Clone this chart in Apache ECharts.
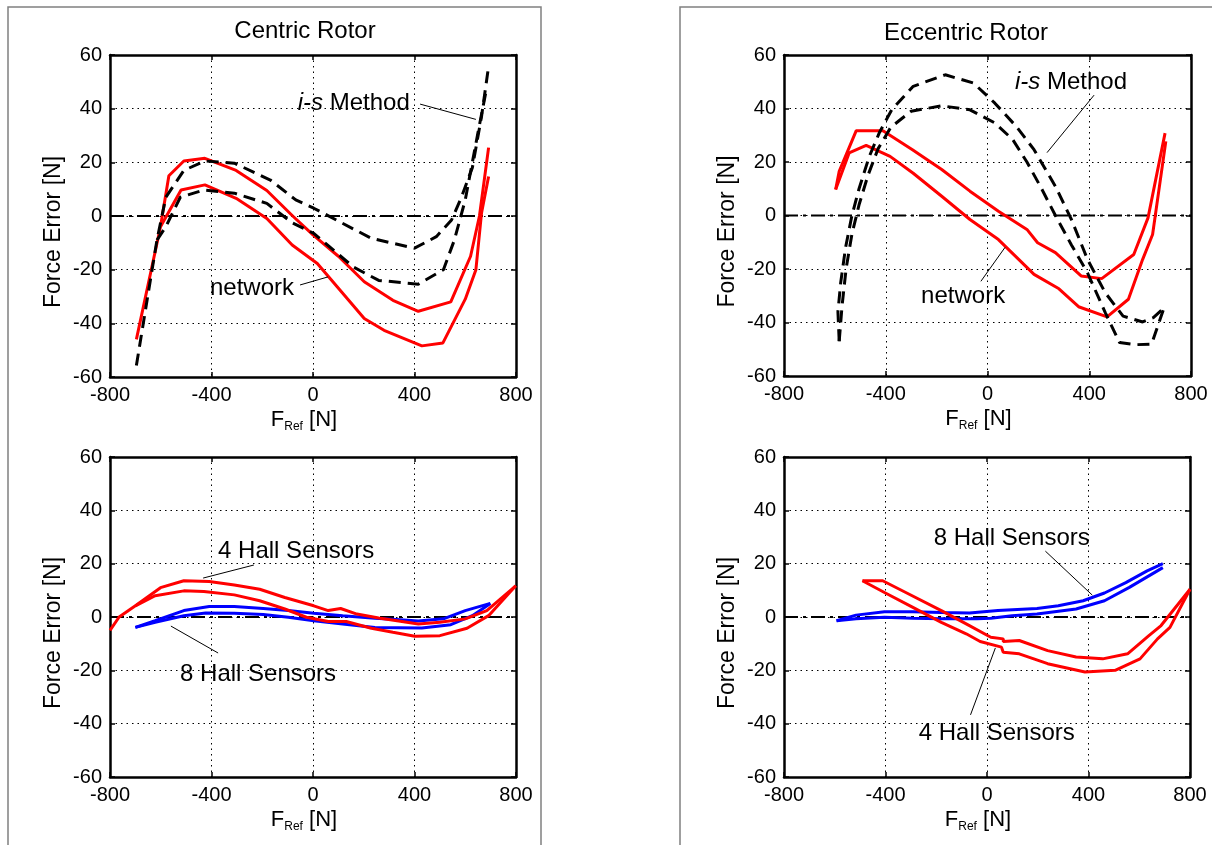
<!DOCTYPE html>
<html>
<head>
<meta charset="utf-8">
<script src="https://cdn.jsdelivr.net/npm/echarts@6/dist/echarts.min.js"></script>
<style>
html,body{margin:0;padding:0;background:#fff;}
#chart{width:1212px;height:845px;}
</style>
</head>
<body>
<div id="chart"></div>
<script>
// ---- axis ticks ----
const forceTicks = [-800, -400, 0, 400, 800];
const errorTicks = [-60, -40, -20, 0, 20, 40, 60];
const panelTitles = ['Centric Rotor', 'Eccentric Rotor'];

// ---- centric rotor: network estimate (hysteresis branches) ----
const centricNetUp = [[-696,-46],[-601,-4],[-568,15],[-509,20.5],[-426,21.5],[-303,17],[-182,9.5],[-80,0],[0,-7],[100,-15],[202,-24.5],[315,-31.4],[415,-35.5],[543,-32],[621,-15],[656,0],[692,25.5]];
const centricNetDown = [[-601,-4],[-520,9.7],[-426,11.6],[-303,6.6],[-182,-0.9],[-82,-10.8],[17,-17.7],[202,-38.2],[280,-42.6],[429,-48.4],[512,-47.3],[600,-31],[642,-20],[664,1],[692,14.7]];
// ---- centric rotor: i-s method ----
const centricIsUp = [[-696,-55.7],[-615,-9],[-580,7],[-509,17],[-426,20.5],[-310,19.7],[-168,13.4],[-68,6],[3,2.9],[116,-2.7],[230,-8.3],[400,-12],[486,-7.7],[546,-1.5],[585,7],[628,18],[664,37],[692,55.8]];
const centricIsDown = [[-615,-9],[-580,-4],[-523,7],[-430,9.7],[-310,8.5],[-182,4.7],[-82,-2.5],[3,-6.5],[159,-19],[259,-24],[415,-25.4],[514,-20],[557,-9],[600,6],[650,31],[685,48]];

// ---- eccentric rotor: network estimate ----
const eccentricNetUp = [[-597,9.7],[-583,16.5],[-516,31.7],[-411,31.7],[-295,24.6],[-180,17.2],[-69,9.1],[43,1.6],[155,-5.2],[197,-10.2],[267,-13.9],[368,-22.6],[449,-23.6],[575,-14.6],[631,-0.9],[698,30.8]];
const eccentricNetDown = [[-597,9.7],[-544,23.4],[-477,26.2],[-383,22.1],[-292,15.8],[-180,7.2],[-69,-1.5],[43,-9],[183,-22],[281,-27.4],[358,-34.1],[470,-37.9],[554,-31.3],[610,-16.4],[649,-7.1],[701,27.7]];
// ---- eccentric rotor: i-s method ----
const eccentricIsOuter = [[-583,-47],[-588,-36],[-577,-25],[-558,-12],[-533,0],[-505,10],[-465,22],[-425,31],[-376,39.6],[-292,48.3],[-166,52.6],[-55,49.5],[29,42],[113,33.3],[183,24.6],[267,10.9],[330,-1.5],[393,-16.4],[463,-28.9],[533,-37.6],[610,-39.8],[652,-38.2],[694,-34.5]];
const eccentricIsInner = [[-583,-47],[-572,-34],[-556,-20],[-533,-7],[-505,4],[-470,15],[-430,25],[-380,33],[-300,39],[-180,41],[-69,39.5],[29,34.6],[99,28.4],[155,20],[210,10.5],[267,0],[330,-11],[393,-21.4],[463,-36.3],[519,-47.5],[580,-48.3],[645,-48.1],[694,-34.5]];

// ---- centric rotor: Hall sensor estimates ----
const centricHall4Up = [[-800,-5],[-764,0],[-700,4.2],[-601,11],[-509,13.6],[-409,13.3],[-310,12],[-210,10.4],[-111,7.3],[3,4.2],[60,2.4],[109,3.2],[173,1.1],[259,-0.4],[344,-1.6],[415,-2.6],[500,-2],[600,-0.7],[685,2.4],[799,11.7]];
const centricHall4Down = [[-700,4.2],[-622,8],[-509,9.8],[-430,9.6],[-310,8.3],[-210,6.1],[-111,3],[-26,-0.1],[60,-1.7],[131,-1.7],[230,-4.2],[315,-5.7],[401,-7.2],[500,-7],[607,-4.2],[692,0.5],[799,11.7]];
const centricHall8Up = [[-700,-3.9],[-622,-1.4],[-509,2.4],[-409,3.9],[-310,3.9],[-196,3.2],[-97,2.4],[3,1.4],[117,0.5],[244,-0.5],[344,-1],[415,-1.5],[514,-0.7],[600,2.4],[699,5.1]];
const centricHall8Down = [[-700,-3.9],[-622,-2],[-509,0.5],[-423,1.5],[-310,1.4],[-196,0.9],[-97,-0.1],[3,-1.4],[117,-2.6],[244,-3.9],[429,-4.1],[543,-2.9],[628,0.5],[699,5.1]];

// ---- eccentric rotor: Hall sensor estimates ----
const eccentricHall4Up = [[-491,13.6],[-411,13.6],[-320,9.2],[-180,2.4],[-82,-2.6],[15,-7.6],[64,-8.2],[64,-9.2],[127,-8.8],[239,-12.6],[351,-15],[456,-15.7],[554,-13.8],[638,-7],[686,-3.2],[800,10.4]];
const eccentricHall4Down = [[-491,13.6],[-404,9.2],[-292,3.6],[-180,-2],[-82,-6.3],[-27,-9.2],[57,-11.3],[64,-13.2],[127,-13.8],[239,-17.5],[386,-20.6],[505,-20],[603,-15.7],[672,-8.2],[721,-3.9],[800,10.4]];
const eccentricHall8Up = [[-593,-1.4],[-516,0.7],[-404,2],[-292,2],[-180,1.7],[-69,1.5],[43,2.4],[197,3.2],[281,4.2],[379,6.1],[463,9],[547,12.9],[631,17.3],[693,20]];
const eccentricHall8Down = [[-593,-1.4],[-516,-0.7],[-404,-0.1],[-292,-0.5],[-180,-0.7],[-41,-0.7],[15,-0.5],[99,0.5],[197,1.1],[351,3],[463,6.1],[561,11.1],[693,18.5]];

// ---- annotation texts (anchor = left edge, vertical middle) and leader lines ----
const notes = [
  {grid: 0, text: 'i-s Method', at: [-60, 42], leader: [[422, 41.7], [642, 36]]},
  {grid: 0, text: 'network', at: [-406, -26.8], leader: [[-51, -25.7], [59, -22.7]]},
  {grid: 1, text: 'i-s Method', at: [108, 49.6], leader: [[419, 45], [234, 23.5]]},
  {grid: 1, text: 'network', at: [-261, -30.2], leader: [[-26, -24.6], [69, -11.9]]},
  {grid: 2, text: '4 Hall Sensors', at: [-374, 24.7], leader: [[-233, 19.5], [-433, 14.6]]},
  {grid: 2, text: '8 Hall Sensors', at: [-524, -21.7], leader: [[-560, -3.4], [-374, -13.5]]},
  {grid: 3, text: '8 Hall Sensors', at: [-210, 29.6], leader: [[230, 24.7], [415, 8.2]]},
  {grid: 3, text: '4 Hall Sensors', at: [-269, -43.5], leader: [[-65, -36.7], [33, -11.6]]}
];

const FONT = '"Liberation Sans", Arial, sans-serif';
const RED = '#ff0000', BLUE = '#0000ff', BLACK = '#000000';

const grids = [
  {left: 110, top: 55, width: 406, height: 322},
  {left: 784, top: 55, width: 407, height: 321},
  {left: 110, top: 457, width: 406, height: 320},
  {left: 784, top: 457, width: 406, height: 320}
];

const xMin = forceTicks[0], xMax = forceTicks[forceTicks.length - 1], xStep = forceTicks[1] - forceTicks[0];
const yMin = errorTicks[0], yMax = errorTicks[errorTicks.length - 1], yStep = errorTicks[1] - errorTicks[0];

const dotted = {color: BLACK, width: 1, type: [1.5, 4]};
const frameTick = {show: true, inside: true, length: 5, lineStyle: {color: BLACK, width: 1.5}};
const frameLine = {show: true, onZero: false, lineStyle: {color: BLACK, width: 2.5}};

function mainX(g) {
  return {
    type: 'value', gridIndex: g, position: 'bottom', min: xMin, max: xMax, interval: xStep,
    axisLine: frameLine, axisTick: frameTick,
    axisLabel: {show: true, margin: 8, color: BLACK, fontSize: 20, fontFamily: FONT, showMinLabel: true, showMaxLabel: true},
    splitLine: {show: true, lineStyle: dotted},
    name: '{m|F}{s|Ref}{m| [N]}', nameLocation: 'middle', nameGap: 30,
    nameTextStyle: {
      padding: [0, 18, 0, 0],
      rich: {
        m: {fontSize: 22, fontFamily: FONT, color: BLACK, lineHeight: 26},
        s: {fontSize: 12, fontFamily: FONT, color: BLACK, lineHeight: 12, verticalAlign: 'bottom'}
      }
    }
  };
}
function mirrorX(g) {
  return {
    type: 'value', gridIndex: g, position: 'top', min: xMin, max: xMax, interval: xStep,
    axisLine: frameLine, axisTick: frameTick, axisLabel: {show: false}, splitLine: {show: false}
  };
}
function mainY(g) {
  return {
    type: 'value', gridIndex: g, position: 'left', min: yMin, max: yMax, interval: yStep,
    axisLine: frameLine, axisTick: frameTick,
    axisLabel: {show: true, margin: 8, color: BLACK, fontSize: 20, fontFamily: FONT, showMinLabel: true, showMaxLabel: true},
    splitLine: {show: true, lineStyle: dotted},
    name: 'Force Error [N]', nameLocation: 'middle', nameGap: 45, nameRotate: 90,
    nameTextStyle: {fontSize: 23, fontFamily: FONT, color: BLACK, padding: [0, 32, 0, 0]}
  };
}
function mirrorY(g) {
  return {
    type: 'value', gridIndex: g, position: 'right', min: yMin, max: yMax, interval: yStep,
    axisLine: frameLine, axisTick: frameTick, axisLabel: {show: false}, splitLine: {show: false}
  };
}

function curve(g, data, color, dashed) {
  return {
    type: 'line', xAxisIndex: g, yAxisIndex: g, data: data, symbol: 'none', silent: true,
    lineStyle: {color: color, width: 3, type: dashed ? [12, 7] : 'solid'},
    z: dashed ? 4 : 3
  };
}
function zeroLine(g) {
  return {
    type: 'line', xAxisIndex: g, yAxisIndex: g, data: [[xMin, 0], [xMax, 0]], symbol: 'none', silent: true,
    lineStyle: {color: BLACK, width: 2, type: [14, 5, 3, 5]}, z: 2
  };
}

const series = [];
for (let g = 0; g < 4; g++) series.push(zeroLine(g));
series.push(curve(0, centricNetUp, RED), curve(0, centricNetDown, RED));
series.push(curve(0, centricIsUp, BLACK, true), curve(0, centricIsDown, BLACK, true));
series.push(curve(1, eccentricNetUp, RED), curve(1, eccentricNetDown, RED));
series.push(curve(1, eccentricIsOuter, BLACK, true), curve(1, eccentricIsInner, BLACK, true));
series.push(curve(2, centricHall8Up, BLUE), curve(2, centricHall8Down, BLUE));
series.push(curve(2, centricHall4Up, RED), curve(2, centricHall4Down, RED));
series.push(curve(3, eccentricHall8Up, BLUE), curve(3, eccentricHall8Down, BLUE));
series.push(curve(3, eccentricHall4Up, RED), curve(3, eccentricHall4Down, RED));

// leader lines from each annotation to its curve
notes.forEach(function (n) {
  series.push({
    type: 'line', xAxisIndex: n.grid, yAxisIndex: n.grid, data: n.leader, symbol: 'none', silent: true,
    lineStyle: {color: BLACK, width: 1}, z: 6
  });
});

const panelFrames = [
  {type: 'rect', id: 'frameL', shape: {x: 8, y: 7, width: 533, height: 900}, style: {fill: 'none', stroke: '#808080', lineWidth: 1.5}, silent: true},
  {type: 'rect', id: 'frameR', shape: {x: 680, y: 7, width: 600, height: 900}, style: {fill: 'none', stroke: '#808080', lineWidth: 1.5}, silent: true}
];

const chart = echarts.init(document.getElementById('chart'), null, {renderer: 'canvas'});
chart.setOption({
  animation: false,
  backgroundColor: '#ffffff',
  title: [
    {text: panelTitles[0], left: 300, top: 14, textAlign: 'center', textStyle: {fontSize: 24, fontWeight: 'normal', fontFamily: FONT, color: BLACK}},
    {text: panelTitles[1], left: 961, top: 16, textAlign: 'center', textStyle: {fontSize: 24, fontWeight: 'normal', fontFamily: FONT, color: BLACK}}
  ],
  graphic: panelFrames,
  grid: grids.map(function (r) { return Object.assign({containLabel: false}, r); }),
  xAxis: [0, 1, 2, 3].map(mainX).concat([0, 1, 2, 3].map(mirrorX)),
  yAxis: [0, 1, 2, 3].map(mainY).concat([0, 1, 2, 3].map(mirrorY)),
  series: series
});

// annotation texts, placed at data coordinates of their plot
const noteTexts = notes.map(function (n, i) {
  const p = chart.convertToPixel({xAxisIndex: n.grid, yAxisIndex: n.grid}, n.at);
  const italicLead = n.text.indexOf('i-s') === 0;
  return {
    type: 'text', id: 'note' + i, x: p[0], y: p[1], silent: true, z: 10,
    style: {
      text: italicLead ? '{it|i-s}' + n.text.slice(3) : n.text,
      fill: BLACK, fontSize: 24, fontFamily: FONT, align: 'left', verticalAlign: 'middle',
      rich: {it: {fontStyle: 'italic', fontSize: 24, fontFamily: FONT, fill: BLACK}}
    }
  };
});
chart.setOption({graphic: panelFrames.concat(noteTexts)});
</script>
</body>
</html>
